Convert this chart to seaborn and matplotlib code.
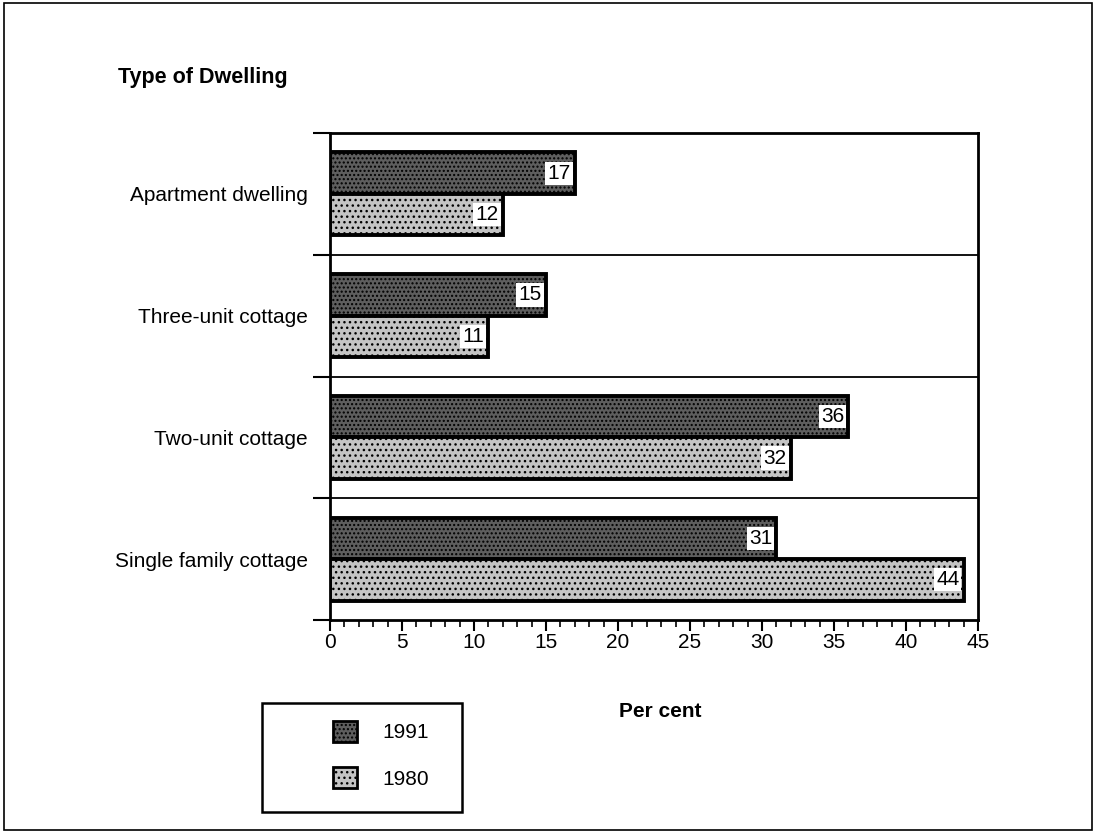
import matplotlib
matplotlib.use("Agg")
import matplotlib.pyplot as plt
import seaborn as sns
import pandas as pd
from matplotlib.patches import Rectangle
from matplotlib.ticker import MultipleLocator, FixedLocator

# data
dwellings = ["Apartment dwelling", "Three-unit cottage", "Two-unit cottage", "Single family cottage"]
years = ["1991", "1980"]
pct_1991 = [17, 15, 36, 31]
pct_1980 = [12, 11, 32, 44]

df = pd.DataFrame({
    "dwelling": dwellings * 2,
    "year": [years[0]] * 4 + [years[1]] * 4,
    "pct": pct_1991 + pct_1980,
})

sns.set_theme(style="white")
plt.rcParams["font.family"] = ["Liberation Sans", "DejaVu Sans"]
plt.rcParams["text.color"] = "black"
plt.rcParams["xtick.color"] = "black"
plt.rcParams["ytick.color"] = "black"
plt.rcParams["axes.labelcolor"] = "black"

colors = ["#5e5e5e", "#c4c4c4"]
hatches = ["....", "..."]

fig = plt.figure(figsize=(10.96, 8.33), dpi=100)
ax = fig.add_axes([330 / 1096, 1 - 620 / 833, 648 / 1096, 487 / 833])

sns.barplot(data=df, y="dwelling", x="pct", hue="year", order=dwellings,
            hue_order=years, palette=colors, orient="h",
            width=0.68, edgecolor="black", linewidth=2.8, ax=ax, legend=False)

for cont, h in zip(ax.containers, hatches):
    for bar in cont:
        bar.set_hatch(h)
        w = bar.get_width()
        yc = bar.get_y() + bar.get_height() / 2
        ax.text(w - 0.3, yc, f"{int(w)}", ha="right", va="center", fontsize=15,
                bbox=dict(boxstyle="square,pad=0.1", fc="white", ec="none"))

ax.set_xlim(0, 45)
ax.set_ylim(3.5, -0.5)
ax.xaxis.set_major_locator(MultipleLocator(5))
ax.xaxis.set_minor_locator(MultipleLocator(1))
ax.yaxis.set_minor_locator(FixedLocator([-0.5, 0.5, 1.5, 2.5, 3.5]))
ax.tick_params(axis="x", which="major", direction="out", length=8, width=1.5,
               labelsize=15, bottom=True, pad=1)
ax.tick_params(axis="x", which="minor", direction="out", length=5, width=1.2,
               bottom=True)
ax.tick_params(axis="y", which="major", length=0, labelsize=15, pad=16)
ax.tick_params(axis="y", which="minor", direction="out", length=12, width=1.5,
               left=True)
ax.set_ylabel("")
ax.set_xlabel("Per cent", fontsize=15, fontweight="bold", va="top")
ax.xaxis.set_label_coords(0.509, -0.168)

for yb in [0.5, 1.5, 2.5]:
    ax.axhline(yb, color="black", lw=1.3, zorder=0)

for sp in ax.spines.values():
    sp.set_visible(True)
    sp.set_color("black")
    sp.set_linewidth(2)

# legend: handles inside a separate square box
handles = [Rectangle((0, 0), 1, 1, fc=c, ec="black", lw=2, hatch=h)
           for c, h in zip(colors, hatches)]
fig.legend(handles, years, loc="upper left", bbox_to_anchor=(333 / 1096, 1 - 721 / 833),
           fontsize=15, frameon=False, handlelength=1.15, handleheight=1.15,
           handletextpad=1.2, borderpad=0, labelspacing=1.2, borderaxespad=0)
fig.patches.append(Rectangle((262 / 1096, 1 - 812 / 833), 200 / 1096, 109 / 833,
                             transform=fig.transFigure, fill=False, ec="black", lw=1.8))

fig.text(118 / 1096, 1 - 77 / 833, "Type of Dwelling", fontsize=15.5,
         fontweight="bold", va="center", ha="left")

fig.patches.append(Rectangle((0.004, 0.004), 0.992, 0.992, transform=fig.transFigure,
                             fill=False, ec="black", lw=1.2))

fig.savefig("out.png", dpi=100)
